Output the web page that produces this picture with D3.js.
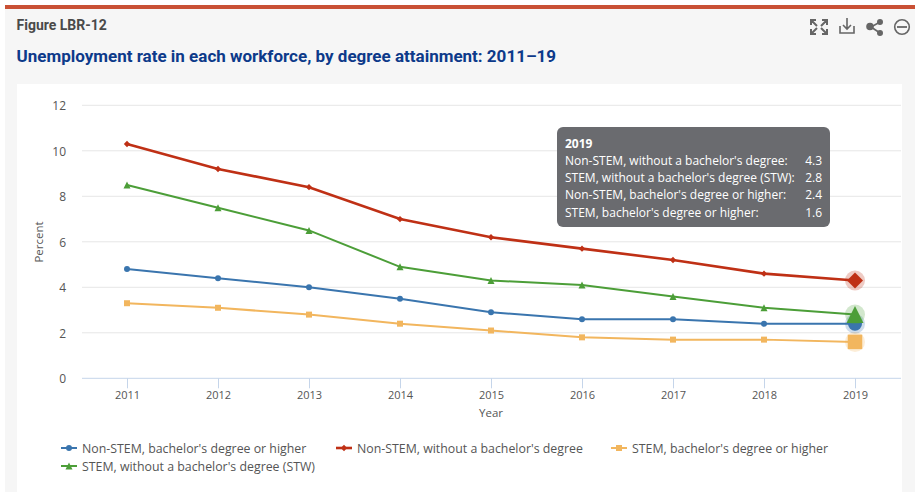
<!DOCTYPE html>
<html>
<head>
<meta charset="utf-8">
<script src="https://cdn.jsdelivr.net/npm/d3@7/dist/d3.min.js"></script>
<style>
html,body{margin:0;padding:0;background:#fff;overflow:hidden}
svg{display:block}
text{font-family:"Open Sans",sans-serif}
</style>
</head>
<body>
<svg id="chart" width="915" height="492"></svg>
<script>
const years = [2011,2012,2013,2014,2015,2016,2017,2018,2019];
const yTicks = [0,2,4,6,8,10,12];
const nonStemBachelor = [4.8,4.4,4.0,3.5,2.9,2.6,2.6,2.4,2.4];
const nonStemNoBachelor = [10.3,9.2,8.4,7.0,6.2,5.7,5.2,4.6,4.3];
const stemBachelor = [3.3,3.1,2.8,2.4,2.1,1.8,1.7,1.7,1.6];
const stemNoBachelor = [8.5,7.5,6.5,4.9,4.3,4.1,3.6,3.1,2.8];
const seriesNames = ["Non-STEM, bachelor's degree or higher","Non-STEM, without a bachelor's degree","STEM, bachelor's degree or higher","STEM, without a bachelor's degree (STW)"];
const seriesValues = [nonStemBachelor,nonStemNoBachelor,stemBachelor,stemNoBachelor];
const seriesColors = ["#3a75ae","#bf3015","#f2b65e","#4c9e38"];
const boxDiamond = {draw(c,s){const w=Math.sqrt(s)/2;c.moveTo(0,-w);c.lineTo(w,0);c.lineTo(0,w);c.lineTo(-w,0);c.closePath();}};
const boxTriangle = {draw(c,s){const w=Math.sqrt(s)/2;c.moveTo(0,-w);c.lineTo(w,w);c.lineTo(-w,w);c.closePath();}};
const seriesSymbols = [d3.symbolCircle,boxDiamond,d3.symbolSquare,boxTriangle];
const seriesWidths = [2,2.6,2,2];
const tooltipOrder = [1,3,0,2];

const svg = d3.select("#chart");
svg.append("rect").attr("x",5).attr("y",5).attr("width",910).attr("height",487).attr("fill","#f6f6f6");
svg.append("rect").attr("x",5).attr("y",5).attr("width",910).attr("height",4).attr("fill","#c95035");
svg.append("rect").attr("x",17).attr("y",84).attr("width",885).attr("height",408).attr("fill","#fff");

svg.append("text").attr("x",16.5).attr("y",30).text("Figure LBR-12")
  .style("font-family","Roboto").style("font-weight",700).style("font-size","14px").attr("fill","#4a4a4a");
svg.append("text").attr("x",16.5).attr("y",62).text("Unemployment rate in each workforce, by degree attainment: 2011–19")
  .style("font-family","Roboto").style("font-weight",700).style("font-size","17px").attr("fill","#0d3a8a");

// toolbar icons
const ic = svg.append("g").attr("fill","none").attr("stroke","#666");
const fs = ic.append("g").attr("stroke-width",2);
fs.append("path").attr("d","M811 25v-5h5M827 25v-5h-5M811 29v5h5M827 29v5h-5M812 21l5 5M826 21l-5 5M812 33l5-5M826 33l-5-5");
ic.append("path").attr("stroke-width",1.6).attr("d","M840 26v7h14v-7M847 18v11M843 25l4 4 4-4");
const sh = ic.append("g").attr("stroke-width",1.6);
sh.append("path").attr("d","M880 22l-9 5 9 6");
[[880,22,2.2],[870,26.5,3],[880,33,2.2]].forEach(c=>sh.append("circle").attr("cx",c[0]).attr("cy",c[1]).attr("r",c[2]).attr("fill","#666"));
ic.append("circle").attr("cx",902).attr("cy",27).attr("r",7.3).attr("stroke-width",1.6);
ic.append("path").attr("stroke-width",1.8).attr("d","M897 27h10");

const x = d3.scalePoint().domain(years).range([127,855]);
const y = d3.scaleLinear().domain([0,12]).range([378.3,105.3]);

// grid
svg.append("g").selectAll("line").data(yTicks.filter(d=>d>0)).join("line")
  .attr("x1",82).attr("x2",901).attr("y1",d=>y(d)).attr("y2",d=>y(d))
  .attr("stroke","#e6e6e6").attr("stroke-width",1);

// axes
const xAxis = svg.append("g").attr("transform",`translate(0,${y(0)})`)
  .call(d3.axisBottom(x).tickSize(10).tickPadding(3).tickFormat(d3.format("d")));
xAxis.select(".domain").remove();
xAxis.insert("line",":first-child").attr("x1",82).attr("x2",901).attr("stroke","#c5d5ea").attr("stroke-width",1);
xAxis.selectAll(".tick line").attr("stroke","#c5d5ea");
xAxis.selectAll(".tick text").style("font-size","11px").attr("fill","#555").style("font-family","'Open Sans'");

const yAxis = svg.append("g").attr("transform","translate(66,0.6)")
  .call(d3.axisLeft(y).tickValues(yTicks).tickSize(0).tickPadding(0));
yAxis.select(".domain").remove();
yAxis.selectAll(".tick text").style("font-size","12px").attr("fill","#555").style("font-family","'Open Sans'");

svg.append("text").attr("transform","translate(43,242) rotate(-90)").attr("text-anchor","middle")
  .style("font-size","11.5px").attr("fill","#555").text("Percent");
svg.append("text").attr("x",491).attr("y",417).attr("text-anchor","middle")
  .style("font-size","11.5px").attr("fill","#555").text("Year");

// series
const line = d3.line().x((d,i)=>x(years[i])).y(d=>y(d));
const markerSizes = [28,40,36,49];
seriesValues.forEach((vals,s)=>{
  const g = svg.append("g");
  g.append("path").attr("d",line(vals)).attr("fill","none")
    .attr("stroke",seriesColors[s]).attr("stroke-width",seriesWidths[s]);
  g.selectAll("path.m").data(vals.slice(0,-1)).join("path").attr("class","m")
    .attr("transform",(d,i)=>`translate(${x(years[i])},${y(d)})`)
    .attr("d",d3.symbol().type(seriesSymbols[s]).size(markerSizes[s]))
    .attr("fill",seriesColors[s]);
});
// hover markers on last year
const hoverSizes = [154,256,210,289];
[0,1,2,3].forEach(s=>{
  const v = seriesValues[s][years.length-1];
  const g = svg.append("g").attr("transform",`translate(${x(2019)},${y(v)})`);
  g.append("circle").attr("r",10).attr("fill",seriesColors[s]).attr("opacity",0.25);
  g.append("path").attr("d",d3.symbol().type(seriesSymbols[s]).size(hoverSizes[s])()).attr("fill",seriesColors[s]);
});

// legend
const legendPos = [[61,448],[336,448],[611,448],[61,466]];
seriesNames.forEach((n,s)=>{
  const g = svg.append("g").attr("transform",`translate(${legendPos[s][0]},${legendPos[s][1]})`);
  g.append("line").attr("x1",0).attr("x2",16).attr("stroke",seriesColors[s]).attr("stroke-width",seriesWidths[s]);
  g.append("path").attr("transform","translate(8,0)").attr("d",d3.symbol().type(seriesSymbols[s]).size(markerSizes[s])()).attr("fill",seriesColors[s]);
  g.append("text").attr("x",21).attr("y",4.5).style("font-size","12.35px").attr("fill","#555").text(n);
});

// tooltip
const tip = svg.append("g");
tip.append("rect").attr("x",557).attr("y",127).attr("width",273).attr("height",100).attr("rx",6).attr("fill","#6a6b6f");
tip.append("text").attr("x",565).attr("y",148).style("font-size","12px").style("font-weight",700).attr("fill","#fff").text(years[8]);
tooltipOrder.forEach((s,i)=>{
  const ty = 165 + i*17.2;
  tip.append("text").attr("x",565).attr("y",ty).style("font-size","12px").attr("fill","#fff").text(seriesNames[s]+":");
  tip.append("text").attr("x",822).attr("y",ty).attr("text-anchor","end").style("font-size","12px").attr("fill","#fff").text(d3.format(".1f")(seriesValues[s][8]));
});
</script>
</body>
</html>
